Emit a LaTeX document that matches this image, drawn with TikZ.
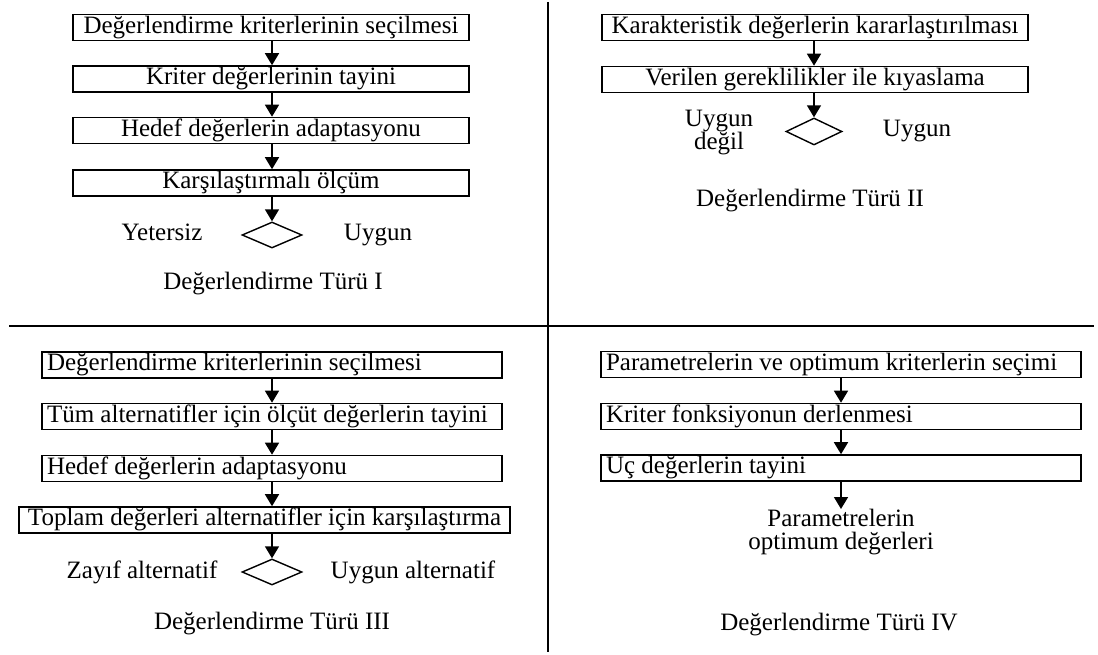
\documentclass[tikz,border=0pt]{standalone}
\usepackage{fontspec}
\setmainfont{Liberation Serif}
\usetikzlibrary{arrows.meta,shapes.geometric}
\begin{document}
\begin{tikzpicture}[x=1pt,y=-1pt,
  font=\fontsize{25}{23}\selectfont,
  every node/.style={inner sep=0pt},
  txt/.style={text height=17pt,text depth=5.5pt},
  box/.style={draw,line width=1.6pt,txt,minimum height=26pt,inner xsep=5pt},
  arr/.style={line width=1.6pt,-{Triangle[width=14pt,length=12pt]}},
  dia/.style={draw,diamond,line width=1.4pt,minimum width=60pt,minimum height=26pt,inner sep=0pt},
  divider/.style={line width=2.6pt}]
\useasboundingbox (0,0) rectangle (1098,655);

% dividers between the four panels
\coordinate (vtop) at (548,2);
\coordinate (vbot) at (548,652);
\coordinate (hl) at (9,326);
\coordinate (hr) at (1094,326);
\draw[divider] (vtop) -- (vbot);
\draw[divider] (hl) -- (hr);

% ---- Type I ----
\node[box,minimum width=396pt] (a1) at (271,27.5) {Değerlendirme kriterlerinin seçilmesi};
\node[box,minimum width=396pt] (a2) at (271,79) {Kriter değerlerinin tayini};
\node[box,minimum width=396pt] (a3) at (271,130.5) {Hedef değerlerin adaptasyonu};
\node[box,minimum width=396pt] (a4) at (271,183) {Karşılaştırmalı ölçüm};
\node[dia] (ad) at (272,235) {};
\node[anchor=base] (an) at (162,241) {Yetersiz};
\node[anchor=base] (ay) at (378,241) {Uygun};
\node[anchor=base] (at) at (273,289) {Değerlendirme Türü I};
\draw[arr] (a1.south -| ad) -- (a2.north -| ad);
\draw[arr] (a2.south -| ad) -- (a3.north -| ad);
\draw[arr] (a3.south -| ad) -- (a4.north -| ad);
\draw[arr] (a4.south -| ad) -- (ad.north);

% ---- Type II ----
\node[box,minimum width=426pt] (b1) at (815,27.5) {Karakteristik değerlerin kararlaştırılması};
\node[box,minimum width=426pt] (b2) at (815,79.5) {Verilen gereklilikler ile kıyaslama};
\node[dia,minimum width=56pt,minimum height=27pt] (bd) at (814,131.5) {};
\node[align=center,anchor=north] (bn) at (719,110) {Uygun\\değil};
\node[anchor=base] (by) at (917,137) {Uygun};
\node[anchor=base] (bt) at (810,207) {Değerlendirme Türü II};
\draw[arr] (b1.south -| bd) -- (b2.north -| bd);
\draw[arr] (b2.south -| bd) -- (bd.north);

% ---- Type III (left-aligned step texts) ----
\node[box] (c1) at (272,365) {\makebox[450pt][l]{Değerlendirme kriterlerinin seçilmesi}};
\node[box] (c2) at (272,416.5) {\makebox[450pt][l]{Tüm alternatifler için ölçüt değerlerin tayini}};
\node[box] (c3) at (272,468.5) {\makebox[450pt][l]{Hedef değerlerin adaptasyonu}};
\node[box,minimum width=491pt] (c4) at (264.5,520) {Toplam değerleri alternatifler için karşılaştırma};
\node[dia] (cd) at (272,572) {};
\node[anchor=base] (cn) at (142,578) {Zayıf alternatif};
\node[anchor=base] (cy) at (413,578) {Uygun alternatif};
\node[anchor=base] (ct) at (272,629) {Değerlendirme Türü III};
\draw[arr] (c1.south -| cd) -- (c2.north -| cd);
\draw[arr] (c2.south -| cd) -- (c3.north -| cd);
\draw[arr] (c3.south -| cd) -- (c4.north -| cd);
\draw[arr] (c4.south -| cd) -- (cd.north);

% ---- Type IV ----
\node[box] (d1) at (841,364.5) {\makebox[470pt][l]{Parametrelerin ve optimum kriterlerin seçimi}};
\node[box] (d2) at (841,416.5) {\makebox[470pt][l]{Kriter fonksiyonun derlenmesi}};
\node[box] (d3) at (841,468) {\makebox[470pt][l]{Uç değerlerin tayini}};
\node[align=center,anchor=north] (dr) at (841,509) {Parametrelerin\\optimum değerleri};
\node[anchor=base] (dt) at (839,630) {Değerlendirme Türü IV};
\draw[arr] (d1) -- (d2);
\draw[arr] (d2) -- (d3);
\draw[arr] (d3) -- (dr);
\end{tikzpicture}
\end{document}
